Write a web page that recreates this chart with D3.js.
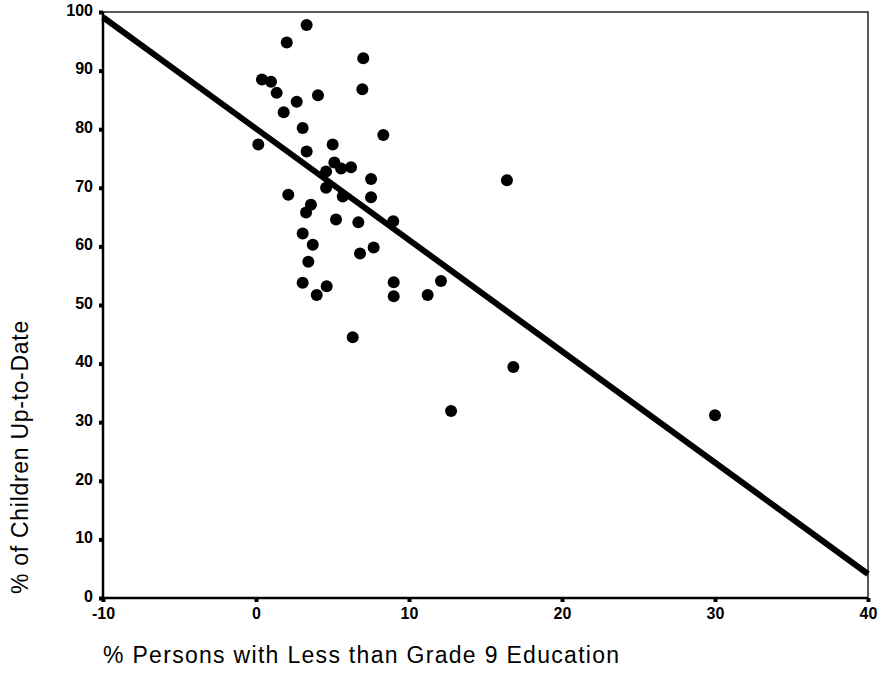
<!DOCTYPE html>
<html>
<head>
<meta charset="utf-8">
<script src="https://cdn.jsdelivr.net/npm/d3@7"></script>
<style>
  html, body { margin: 0; padding: 0; background: #fff; }
  svg { display: block; font-family: Arial, "Liberation Sans", sans-serif; }
</style>
</head>
<body>
<svg id="chart" width="887" height="689"></svg>
<script>
// % of population with less than grade 9 education, per area
const education = [
  3.31, 2.01, 7.01, 0.39, 0.98, 1.35, 2.66, 4.05, 6.95, 1.81,
  3.05, 8.32, 0.15, 5.01, 3.31, 5.12, 6.21, 4.58, 5.56, 7.52,
  2.11, 4.58, 5.67, 7.52, 3.59, 3.27, 5.23, 6.69, 8.97, 3.05,
  3.71, 6.80, 7.69, 3.42, 3.05, 4.62, 3.97, 9.00, 9.00, 11.22,
  12.09, 6.32, 16.82, 12.75, 30.0, 16.4
];
// % of children with up-to-date immunization, same order
const upToDate = [
  97.8, 94.8, 92.1, 88.5, 88.1, 86.2, 84.7, 85.8, 86.8, 82.9,
  80.2, 79.0, 77.4, 77.4, 76.2, 74.3, 73.5, 72.8, 73.3, 71.5,
  68.8, 70.0, 68.5, 68.4, 67.1, 65.8, 64.6, 64.1, 64.3, 62.2,
  60.3, 58.8, 59.8, 57.4, 53.8, 53.2, 51.7, 53.9, 51.5, 51.7,
  54.1, 44.5, 39.4, 31.9, 31.2, 71.3
];
// fitted regression line: intercept and slope
const fitIntercept = 80.1;
const fitSlope = -1.9;

const xTicks = [-10, 0, 10, 20, 30, 40];
const yTicks = [0, 10, 20, 30, 40, 50, 60, 70, 80, 90, 100];
const xTitle = "% Persons with Less than Grade 9 Education";
const yTitle = "% of Children Up-to-Date";

const svg = d3.select("#chart");
const plotLeft = 103, plotRight = 868, plotTop = 12, plotBottom = 598;

const x = d3.scaleLinear().domain([-10, 40]).range([plotLeft, plotRight]);
const y = d3.scaleLinear().domain([0, 100]).range([plotBottom, plotTop]);

// frame
svg.append("rect")
  .attr("x", plotLeft).attr("y", plotTop)
  .attr("width", plotRight - plotLeft).attr("height", plotBottom - plotTop)
  .attr("fill", "none").attr("stroke", "#000").attr("stroke-width", 1.3);
svg.append("line")
  .attr("x1", plotLeft).attr("x2", plotLeft).attr("y1", plotTop).attr("y2", plotBottom)
  .attr("stroke", "#000").attr("stroke-width", 2.5);
svg.append("line")
  .attr("x1", plotLeft).attr("x2", plotRight).attr("y1", plotBottom).attr("y2", plotBottom)
  .attr("stroke", "#000").attr("stroke-width", 2.5);

// axes (plain hyphen for negative labels)
const fmt = d => String(d);
const yAxis = d3.axisLeft(y).tickValues(yTicks).tickFormat(fmt).tickSize(4).tickPadding(6);
const xAxis = d3.axisBottom(x).tickValues(xTicks).tickFormat(fmt).tickSize(4).tickPadding(6);

const gy = svg.append("g").attr("transform", `translate(${plotLeft},0)`).call(yAxis);
const gx = svg.append("g").attr("transform", `translate(0,${plotBottom})`).call(xAxis);
[gx, gy].forEach(g => {
  g.select(".domain").remove();
  g.selectAll(".tick line").attr("stroke", "#000").attr("stroke-width", 4);
  g.selectAll(".tick text")
    .attr("fill", "#000")
    .style("font-size", "16px")
    .style("font-weight", "bold")
    .style("font-family", "Arial, 'Liberation Sans', sans-serif");
});
gy.selectAll(".tick text").attr("dy", "0.2em");

// regression line
svg.append("line")
  .attr("x1", x(-10)).attr("y1", y(fitIntercept + fitSlope * -10))
  .attr("x2", x(40)).attr("y2", y(fitIntercept + fitSlope * 40))
  .attr("stroke", "#000").attr("stroke-width", 6);

// points
const pts = education.map((e, i) => ({ e, u: upToDate[i] }));
svg.append("g").selectAll("circle")
  .data(pts).join("circle")
  .attr("cx", d => x(d.e))
  .attr("cy", d => y(d.u))
  .attr("r", 6)
  .attr("fill", "#000");

// titles
svg.append("text")
  .attr("x", 103).attr("y", 663)
  .style("font-size", "23px")
  .style("letter-spacing", "1.3px")
  .attr("fill", "#000")
  .text(xTitle);

svg.append("text")
  .attr("transform", "translate(28,457) rotate(-90)")
  .attr("text-anchor", "middle")
  .style("font-size", "23px")
  .style("letter-spacing", "0.7px")
  .attr("fill", "#000")
  .text(yTitle);
</script>
</body>
</html>
